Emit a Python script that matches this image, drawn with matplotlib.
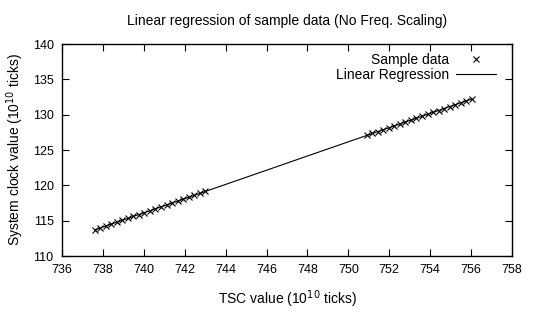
import matplotlib.pyplot as plt

plt.rcParams['font.family'] = ['Liberation Sans', 'DejaVu Sans']

# sample points, two clusters (10^10 ticks)
tsc_a = [737.60, 737.87, 738.14, 738.41, 738.68, 738.95, 739.22, 739.49, 739.76, 740.03, 740.30,
         740.57, 740.84, 741.11, 741.38, 741.65, 741.92, 742.19, 742.46, 742.73, 743.00]
clk_a = [113.70, 113.97, 114.24, 114.51, 114.79, 115.06, 115.33, 115.60, 115.87, 116.14, 116.41,
         116.68, 116.95, 117.23, 117.50, 117.77, 118.04, 118.31, 118.58, 118.85, 119.13]
tsc_b = [750.90, 751.17, 751.44, 751.71, 751.98, 752.25, 752.52, 752.79, 753.06, 753.33,
         753.60, 753.87, 754.14, 754.41, 754.68, 754.95, 755.22, 755.49, 755.76, 756.03]
clk_b = [127.07, 127.34, 127.61, 127.88, 128.15, 128.42, 128.70, 128.97, 129.24, 129.51,
         129.78, 130.05, 130.32, 130.59, 130.87, 131.14, 131.41, 131.68, 131.95, 132.22]
# regression line endpoints
reg_x = [737.60, 756.03]
reg_y = [113.70, 132.22]

x_ticks = [736, 738, 740, 742, 744, 746, 748, 750, 752, 754, 756, 758]
y_ticks = [110, 115, 120, 125, 130, 135, 140]

fig = plt.figure(figsize=(5.34, 3.15), dpi=100)
ax = fig.add_axes([0.1161, 0.1873, 0.8427, 0.6730])

ax.plot(tsc_a + tsc_b, clk_a + clk_b, linestyle='none', marker='x', color='black',
        markersize=4, markeredgewidth=0.8, label='Sample data')
ax.plot(reg_x, reg_y, color='black', linewidth=0.8, label='Linear Regression')

ax.set_xlim(736, 758)
ax.set_ylim(110, 140)
ax.set_xticks(x_ticks)
ax.set_yticks(y_ticks)
ax.tick_params(direction='in', length=5, width=0.8, top=True, right=True,
               labelsize=9, pad=6)
for s in ax.spines.values():
    s.set_linewidth(1.0)

ax.set_title('Linear regression of sample data (No Freq. Scaling)', fontsize=10, pad=14)
ax.set_xlabel('TSC value (10$^{10}$ ticks)', fontsize=10, labelpad=9)
ax.set_ylabel('System clock value (10$^{10}$ ticks)', fontsize=10, labelpad=5)

ax.legend(loc='upper right', bbox_to_anchor=(0.985, 1.0), markerfirst=False,
          frameon=False, fontsize=10, handlelength=2.9, handletextpad=0.5,
          labelspacing=0.05, borderaxespad=0.35, borderpad=0.3)

fig.savefig('out.png', dpi=100)
